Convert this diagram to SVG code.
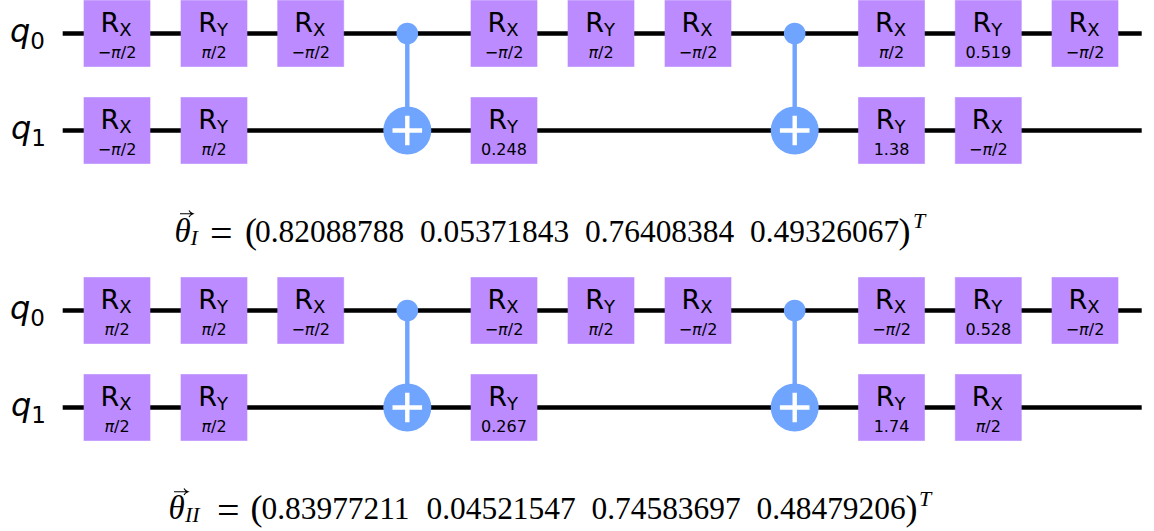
<svg xmlns="http://www.w3.org/2000/svg" width="1154" height="531" viewBox="0 0 1154 531">
<defs>
<style>
text{font-family:"DejaVu Sans",sans-serif;fill:#000}
.w{stroke:#000;stroke-width:4.4;fill:none}
.b{fill:#bb8bff;stroke:#bb8bff;stroke-opacity:.6;stroke-width:1}
.c{fill:#6fa4ff}
.l{stroke:#6fa4ff;stroke-width:4.4;fill:none}
.p{stroke:#fff;stroke-width:4.4;fill:none}
.g{font-size:27px;text-anchor:middle}
.s{font-size:18px}
.v{font-size:16px;text-anchor:middle}
.i{font-style:italic}
.q{font-size:32px;font-style:italic}
.qs{font-size:23px;font-style:normal}
text.m{font-family:"Liberation Serif",serif;font-size:31.4px}
text.th{font-size:33px;font-style:italic}
text.e{font-size:40px}
text.pr{font-size:36px}
text.ms{font-size:22px;font-style:italic}
.a{stroke:#000;stroke-width:1.1;fill:none}
</style>
</defs>
<g id="connectors">
<path class="w" d="M62.700 33.500H1141.700M62.700 130.500H1141.700M62.700 310.500H1141.700M62.700 407.500H1141.700"/>
<path class="l" d="M407.300 33.500V130.500M794.700 33.500V130.500M407.300 310.500V407.500M794.700 310.500V407.500"/>
</g>
<g id="labels">
<text class="q" x="10" y="41.700">q<tspan class="qs" dy="7.300">0</tspan></text>
<text class="q" x="11" y="138.700">q<tspan class="qs" dy="7.300">1</tspan></text>
<text class="q" x="10" y="318.700">q<tspan class="qs" dy="7.300">0</tspan></text>
<text class="q" x="11" y="415.700">q<tspan class="qs" dy="7.300">1</tspan></text>
</g>
<g id="a1" transform="translate(117 33.500)"><rect class="b" x="-33" y="-33" width="66" height="66"/><text class="g" x="-1" y="-2">R<tspan class="s" dy="4.500">X</tspan></text><text class="v" y="24.300">−<tspan class="i">π</tspan>/2</text></g>
<g id="a2" transform="translate(214 33.500)"><rect class="b" x="-33" y="-33" width="66" height="66"/><text class="g" x="-1" y="-2">R<tspan class="s" dy="4.500">Y</tspan></text><text class="v" y="24.300"><tspan class="i">π</tspan>/2</text></g>
<g id="a3" transform="translate(310.700 33.500)"><rect class="b" x="-33" y="-33" width="66" height="66"/><text class="g" x="-1" y="-2">R<tspan class="s" dy="4.500">X</tspan></text><text class="v" y="24.300">−<tspan class="i">π</tspan>/2</text></g>
<g id="a4"><circle class="c" cx="407.300" cy="33.500" r="10.800"/></g>
<g id="a5"><circle class="c" cx="407.300" cy="130.500" r="24"/><path class="p" d="M392.500 130.500H422.100M407.300 115.700V145.300"/></g>
<g id="a6" transform="translate(504 33.500)"><rect class="b" x="-33" y="-33" width="66" height="66"/><text class="g" x="-1" y="-2">R<tspan class="s" dy="4.500">X</tspan></text><text class="v" y="24.300">−<tspan class="i">π</tspan>/2</text></g>
<g id="a7" transform="translate(601 33.500)"><rect class="b" x="-33" y="-33" width="66" height="66"/><text class="g" x="-1" y="-2">R<tspan class="s" dy="4.500">Y</tspan></text><text class="v" y="24.300"><tspan class="i">π</tspan>/2</text></g>
<g id="a8" transform="translate(698 33.500)"><rect class="b" x="-33" y="-33" width="66" height="66"/><text class="g" x="-1" y="-2">R<tspan class="s" dy="4.500">X</tspan></text><text class="v" y="24.300">−<tspan class="i">π</tspan>/2</text></g>
<g id="a9"><circle class="c" cx="794.700" cy="33.500" r="10.800"/></g>
<g id="a10"><circle class="c" cx="794.700" cy="130.500" r="24"/><path class="p" d="M779.900 130.500H809.500M794.700 115.700V145.300"/></g>
<g id="a11" transform="translate(891.500 33.500)"><rect class="b" x="-33" y="-33" width="66" height="66"/><text class="g" x="-1" y="-2">R<tspan class="s" dy="4.500">X</tspan></text><text class="v" y="24.300"><tspan class="i">π</tspan>/2</text></g>
<g id="a12" transform="translate(988.300 33.500)"><rect class="b" x="-33" y="-33" width="66" height="66"/><text class="g" x="-1" y="-2">R<tspan class="s" dy="4.500">Y</tspan></text><text class="v" y="24.300">0.519</text></g>
<g id="a13" transform="translate(1085 33.500)"><rect class="b" x="-33" y="-33" width="66" height="66"/><text class="g" x="-1" y="-2">R<tspan class="s" dy="4.500">X</tspan></text><text class="v" y="24.300">−<tspan class="i">π</tspan>/2</text></g>
<g id="a14" transform="translate(117 130.500)"><rect class="b" x="-33" y="-33" width="66" height="66"/><text class="g" x="-1" y="-2">R<tspan class="s" dy="4.500">X</tspan></text><text class="v" y="24.300">−<tspan class="i">π</tspan>/2</text></g>
<g id="a15" transform="translate(214 130.500)"><rect class="b" x="-33" y="-33" width="66" height="66"/><text class="g" x="-1" y="-2">R<tspan class="s" dy="4.500">Y</tspan></text><text class="v" y="24.300"><tspan class="i">π</tspan>/2</text></g>
<g id="a16" transform="translate(504 130.500)"><rect class="b" x="-33" y="-33" width="66" height="66"/><text class="g" x="-1" y="-2">R<tspan class="s" dy="4.500">Y</tspan></text><text class="v" y="24.300">0.248</text></g>
<g id="a17" transform="translate(891.500 130.500)"><rect class="b" x="-33" y="-33" width="66" height="66"/><text class="g" x="-1" y="-2">R<tspan class="s" dy="4.500">Y</tspan></text><text class="v" y="24.300">1.38</text></g>
<g id="a18" transform="translate(988.300 130.500)"><rect class="b" x="-33" y="-33" width="66" height="66"/><text class="g" x="-1" y="-2">R<tspan class="s" dy="4.500">X</tspan></text><text class="v" y="24.300">−<tspan class="i">π</tspan>/2</text></g>
<g id="b1" transform="translate(117 310.500)"><rect class="b" x="-33" y="-33" width="66" height="66"/><text class="g" x="-1" y="-2">R<tspan class="s" dy="4.500">X</tspan></text><text class="v" y="24.300"><tspan class="i">π</tspan>/2</text></g>
<g id="b2" transform="translate(214 310.500)"><rect class="b" x="-33" y="-33" width="66" height="66"/><text class="g" x="-1" y="-2">R<tspan class="s" dy="4.500">Y</tspan></text><text class="v" y="24.300"><tspan class="i">π</tspan>/2</text></g>
<g id="b3" transform="translate(310.700 310.500)"><rect class="b" x="-33" y="-33" width="66" height="66"/><text class="g" x="-1" y="-2">R<tspan class="s" dy="4.500">X</tspan></text><text class="v" y="24.300">−<tspan class="i">π</tspan>/2</text></g>
<g id="b4"><circle class="c" cx="407.300" cy="310.500" r="10.800"/></g>
<g id="b5"><circle class="c" cx="407.300" cy="407.500" r="24"/><path class="p" d="M392.500 407.500H422.100M407.300 392.700V422.300"/></g>
<g id="b6" transform="translate(504 310.500)"><rect class="b" x="-33" y="-33" width="66" height="66"/><text class="g" x="-1" y="-2">R<tspan class="s" dy="4.500">X</tspan></text><text class="v" y="24.300">−<tspan class="i">π</tspan>/2</text></g>
<g id="b7" transform="translate(601 310.500)"><rect class="b" x="-33" y="-33" width="66" height="66"/><text class="g" x="-1" y="-2">R<tspan class="s" dy="4.500">Y</tspan></text><text class="v" y="24.300"><tspan class="i">π</tspan>/2</text></g>
<g id="b8" transform="translate(698 310.500)"><rect class="b" x="-33" y="-33" width="66" height="66"/><text class="g" x="-1" y="-2">R<tspan class="s" dy="4.500">X</tspan></text><text class="v" y="24.300">−<tspan class="i">π</tspan>/2</text></g>
<g id="b9"><circle class="c" cx="794.700" cy="310.500" r="10.800"/></g>
<g id="b10"><circle class="c" cx="794.700" cy="407.500" r="24"/><path class="p" d="M779.900 407.500H809.500M794.700 392.700V422.300"/></g>
<g id="b11" transform="translate(891.500 310.500)"><rect class="b" x="-33" y="-33" width="66" height="66"/><text class="g" x="-1" y="-2">R<tspan class="s" dy="4.500">X</tspan></text><text class="v" y="24.300">−<tspan class="i">π</tspan>/2</text></g>
<g id="b12" transform="translate(988.300 310.500)"><rect class="b" x="-33" y="-33" width="66" height="66"/><text class="g" x="-1" y="-2">R<tspan class="s" dy="4.500">Y</tspan></text><text class="v" y="24.300">0.528</text></g>
<g id="b13" transform="translate(1085 310.500)"><rect class="b" x="-33" y="-33" width="66" height="66"/><text class="g" x="-1" y="-2">R<tspan class="s" dy="4.500">X</tspan></text><text class="v" y="24.300">−<tspan class="i">π</tspan>/2</text></g>
<g id="b14" transform="translate(117 407.500)"><rect class="b" x="-33" y="-33" width="66" height="66"/><text class="g" x="-1" y="-2">R<tspan class="s" dy="4.500">X</tspan></text><text class="v" y="24.300"><tspan class="i">π</tspan>/2</text></g>
<g id="b15" transform="translate(214 407.500)"><rect class="b" x="-33" y="-33" width="66" height="66"/><text class="g" x="-1" y="-2">R<tspan class="s" dy="4.500">Y</tspan></text><text class="v" y="24.300"><tspan class="i">π</tspan>/2</text></g>
<g id="b16" transform="translate(504 407.500)"><rect class="b" x="-33" y="-33" width="66" height="66"/><text class="g" x="-1" y="-2">R<tspan class="s" dy="4.500">Y</tspan></text><text class="v" y="24.300">0.267</text></g>
<g id="b17" transform="translate(891.500 407.500)"><rect class="b" x="-33" y="-33" width="66" height="66"/><text class="g" x="-1" y="-2">R<tspan class="s" dy="4.500">Y</tspan></text><text class="v" y="24.300">1.74</text></g>
<g id="b18" transform="translate(988.300 407.500)"><rect class="b" x="-33" y="-33" width="66" height="66"/><text class="g" x="-1" y="-2">R<tspan class="s" dy="4.500">X</tspan></text><text class="v" y="24.300"><tspan class="i">π</tspan>/2</text></g>
<g id="eq1">
<text class="m th" x="174.500" y="242.300">θ</text>
<path class="a" d="M180 213.700H192.500M189 210.500Q190 212.700 193 213.700Q190 214.700 189 217"/>
<text class="m ms" x="190.500" y="245">I</text>
<text class="m e" x="210" y="247">=</text>
<text class="m pr" x="245" y="242.600">(</text>
<text class="m" x="255" y="242.300">0.82088788</text>
<text class="m" x="420" y="242.300">0.05371843</text>
<text class="m" x="585" y="242.300">0.76408384</text>
<text class="m" x="750" y="242.300">0.49326067</text>
<text class="m pr" x="898.500" y="242.600">)</text>
<text class="m ms" x="913" y="228.300">T</text>
</g>
<g id="eq2">
<text class="m th" x="168.500" y="519.300">θ</text>
<path class="a" d="M174 491.700H187.500M184 488.500Q185 490.700 188 491.700Q185 492.700 184 495"/>
<text class="m ms" x="185" y="522">II</text>
<text class="m e" x="217" y="524">=</text>
<text class="m pr" x="250.500" y="519.600">(</text>
<text class="m" x="261.500" y="519.300">0.83977211</text>
<text class="m" x="426.500" y="519.300">0.04521547</text>
<text class="m" x="591.500" y="519.300">0.74583697</text>
<text class="m" x="756.500" y="519.300">0.48479206</text>
<text class="m pr" x="905.500" y="519.600">)</text>
<text class="m ms" x="919" y="506">T</text>
</g>
</svg>
